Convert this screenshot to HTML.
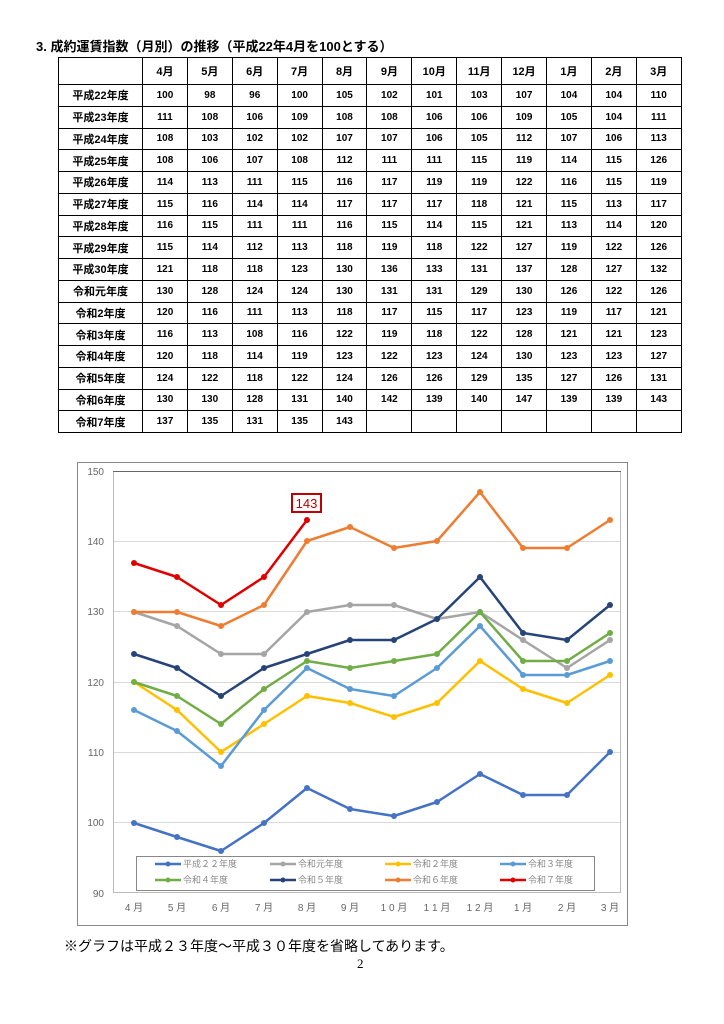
<!DOCTYPE html>
<html><head><meta charset="utf-8"><style>
body{margin:0;width:724px;height:1024px;background:#fff;position:relative;font-family:"Liberation Sans","Noto Sans CJK JP",sans-serif;overflow:hidden}
.t{position:absolute;left:36px;top:36px;font-size:13px;font-weight:bold;color:#000}
table{position:absolute;left:58px;top:57px;border-collapse:collapse;font-size:10px;font-weight:bold;table-layout:fixed;width:623px}
td{border:1px solid #000;text-align:center;height:20.75px;padding:0;overflow:hidden;white-space:nowrap}
tr.h td{height:26px;font-size:11px}
td.l{font-size:11px}
.f{position:absolute;left:64px;top:936px;font-size:14px;color:#000}
.p{position:absolute;left:357px;top:956px;font-size:13px;font-family:"Liberation Serif",serif}
svg{position:absolute;left:0;top:0}
</style></head><body>
<div class="t">3. 成約運賃指数（月別）の推移（平成22年4月を100とする）</div>
<table>
<colgroup><col style="width:84px"><col span="12" style="width:44.9px"></colgroup>
<tr class="h"><td class="l"></td><td>4月</td><td>5月</td><td>6月</td><td>7月</td><td>8月</td><td>9月</td><td>10月</td><td>11月</td><td>12月</td><td>1月</td><td>2月</td><td>3月</td></tr>
<tr><td class="l">平成22年度</td><td>100</td><td>98</td><td>96</td><td>100</td><td>105</td><td>102</td><td>101</td><td>103</td><td>107</td><td>104</td><td>104</td><td>110</td></tr>
<tr><td class="l">平成23年度</td><td>111</td><td>108</td><td>106</td><td>109</td><td>108</td><td>108</td><td>106</td><td>106</td><td>109</td><td>105</td><td>104</td><td>111</td></tr>
<tr><td class="l">平成24年度</td><td>108</td><td>103</td><td>102</td><td>102</td><td>107</td><td>107</td><td>106</td><td>105</td><td>112</td><td>107</td><td>106</td><td>113</td></tr>
<tr><td class="l">平成25年度</td><td>108</td><td>106</td><td>107</td><td>108</td><td>112</td><td>111</td><td>111</td><td>115</td><td>119</td><td>114</td><td>115</td><td>126</td></tr>
<tr><td class="l">平成26年度</td><td>114</td><td>113</td><td>111</td><td>115</td><td>116</td><td>117</td><td>119</td><td>119</td><td>122</td><td>116</td><td>115</td><td>119</td></tr>
<tr><td class="l">平成27年度</td><td>115</td><td>116</td><td>114</td><td>114</td><td>117</td><td>117</td><td>117</td><td>118</td><td>121</td><td>115</td><td>113</td><td>117</td></tr>
<tr><td class="l">平成28年度</td><td>116</td><td>115</td><td>111</td><td>111</td><td>116</td><td>115</td><td>114</td><td>115</td><td>121</td><td>113</td><td>114</td><td>120</td></tr>
<tr><td class="l">平成29年度</td><td>115</td><td>114</td><td>112</td><td>113</td><td>118</td><td>119</td><td>118</td><td>122</td><td>127</td><td>119</td><td>122</td><td>126</td></tr>
<tr><td class="l">平成30年度</td><td>121</td><td>118</td><td>118</td><td>123</td><td>130</td><td>136</td><td>133</td><td>131</td><td>137</td><td>128</td><td>127</td><td>132</td></tr>
<tr><td class="l">令和元年度</td><td>130</td><td>128</td><td>124</td><td>124</td><td>130</td><td>131</td><td>131</td><td>129</td><td>130</td><td>126</td><td>122</td><td>126</td></tr>
<tr><td class="l">令和2年度</td><td>120</td><td>116</td><td>111</td><td>113</td><td>118</td><td>117</td><td>115</td><td>117</td><td>123</td><td>119</td><td>117</td><td>121</td></tr>
<tr><td class="l">令和3年度</td><td>116</td><td>113</td><td>108</td><td>116</td><td>122</td><td>119</td><td>118</td><td>122</td><td>128</td><td>121</td><td>121</td><td>123</td></tr>
<tr><td class="l">令和4年度</td><td>120</td><td>118</td><td>114</td><td>119</td><td>123</td><td>122</td><td>123</td><td>124</td><td>130</td><td>123</td><td>123</td><td>127</td></tr>
<tr><td class="l">令和5年度</td><td>124</td><td>122</td><td>118</td><td>122</td><td>124</td><td>126</td><td>126</td><td>129</td><td>135</td><td>127</td><td>126</td><td>131</td></tr>
<tr><td class="l">令和6年度</td><td>130</td><td>130</td><td>128</td><td>131</td><td>140</td><td>142</td><td>139</td><td>140</td><td>147</td><td>139</td><td>139</td><td>143</td></tr>
<tr><td class="l">令和7年度</td><td>137</td><td>135</td><td>131</td><td>135</td><td>143</td><td></td><td></td><td></td><td></td><td></td><td></td><td></td></tr>
</table>
<svg width="724" height="1024" viewBox="0 0 724 1024">
<defs>
<marker id="m1" markerUnits="userSpaceOnUse" markerWidth="8" markerHeight="8" refX="4" refY="4"><circle cx="4" cy="4" r="3" fill="#4472C4"/></marker>
<marker id="m2" markerUnits="userSpaceOnUse" markerWidth="8" markerHeight="8" refX="4" refY="4"><circle cx="4" cy="4" r="3" fill="#A5A5A5"/></marker>
<marker id="m3" markerUnits="userSpaceOnUse" markerWidth="8" markerHeight="8" refX="4" refY="4"><circle cx="4" cy="4" r="3" fill="#FFC000"/></marker>
<marker id="m4" markerUnits="userSpaceOnUse" markerWidth="8" markerHeight="8" refX="4" refY="4"><circle cx="4" cy="4" r="3" fill="#5B9BD5"/></marker>
<marker id="m5" markerUnits="userSpaceOnUse" markerWidth="8" markerHeight="8" refX="4" refY="4"><circle cx="4" cy="4" r="3" fill="#70AD47"/></marker>
<marker id="m6" markerUnits="userSpaceOnUse" markerWidth="8" markerHeight="8" refX="4" refY="4"><circle cx="4" cy="4" r="3" fill="#264478"/></marker>
<marker id="m7" markerUnits="userSpaceOnUse" markerWidth="8" markerHeight="8" refX="4" refY="4"><circle cx="4" cy="4" r="3" fill="#ED7D31"/></marker>
<marker id="m8" markerUnits="userSpaceOnUse" markerWidth="8" markerHeight="8" refX="4" refY="4"><circle cx="4" cy="4" r="3" fill="#E00000"/></marker>
</defs>
<rect x="77.5" y="462.5" width="550" height="463" fill="#fff" stroke="#888"/>
<g stroke="#d9d9d9" stroke-width="1">
<line x1="113" x2="620" y1="822.5" y2="822.5"/><line x1="113" x2="620" y1="752.5" y2="752.5"/>
<line x1="113" x2="620" y1="682.5" y2="682.5"/><line x1="113" x2="620" y1="611.5" y2="611.5"/>
<line x1="113" x2="620" y1="541.5" y2="541.5"/>
</g>
<rect x="113.5" y="471.5" width="507" height="421" fill="none" stroke="#bbb"/>
<line x1="113" x2="621" y1="471.5" y2="471.5" stroke="#666"/>
<g font-size="10" fill="#666" text-anchor="end">
<text x="104" y="475">150</text><text x="104" y="545">140</text><text x="104" y="615">130</text>
<text x="104" y="686">120</text><text x="104" y="756">110</text><text x="104" y="826">100</text><text x="104" y="897">90</text>
</g>
<g font-size="10" fill="#666" text-anchor="middle">
<text x="134" y="911">4 月</text><text x="177" y="911">5 月</text><text x="221" y="911">6 月</text><text x="264" y="911">7 月</text>
<text x="307" y="911">8 月</text><text x="350" y="911">9 月</text><text x="394" y="911">1 0 月</text><text x="437" y="911">1 1 月</text>
<text x="480" y="911">1 2 月</text><text x="523" y="911">1 月</text><text x="567" y="911">2 月</text><text x="610" y="911">3 月</text>
</g>
<g fill="none" stroke-width="2.5" stroke-linejoin="round">
<polyline stroke="#4472C4" marker-start="url(#m1)" marker-mid="url(#m1)" marker-end="url(#m1)" points="134,823 177,837 221,851 264,823 307,788 350,809 394,816 437,802 480,774 523,795 567,795 610,752"/>
<polyline stroke="#A5A5A5" marker-start="url(#m2)" marker-mid="url(#m2)" marker-end="url(#m2)" points="134,612 177,626 221,654 264,654 307,612 350,605 394,605 437,619 480,612 523,640 567,668 610,640"/>
<polyline stroke="#FFC000" marker-start="url(#m3)" marker-mid="url(#m3)" marker-end="url(#m3)" points="134,682 177,710 221,752 264,724 307,696 350,703 394,717 437,703 480,661 523,689 567,703 610,675"/>
<polyline stroke="#5B9BD5" marker-start="url(#m4)" marker-mid="url(#m4)" marker-end="url(#m4)" points="134,710 177,731 221,766 264,710 307,668 350,689 394,696 437,668 480,626 523,675 567,675 610,661"/>
<polyline stroke="#70AD47" marker-start="url(#m5)" marker-mid="url(#m5)" marker-end="url(#m5)" points="134,682 177,696 221,724 264,689 307,661 350,668 394,661 437,654 480,612 523,661 567,661 610,633"/>
<polyline stroke="#264478" marker-start="url(#m6)" marker-mid="url(#m6)" marker-end="url(#m6)" points="134,654 177,668 221,696 264,668 307,654 350,640 394,640 437,619 480,577 523,633 567,640 610,605"/>
<polyline stroke="#ED7D31" marker-start="url(#m7)" marker-mid="url(#m7)" marker-end="url(#m7)" points="134,612 177,612 221,626 264,605 307,541 350,527 394,548 437,541 480,492 523,548 567,548 610,520"/>
<polyline stroke="#E00000" marker-start="url(#m8)" marker-mid="url(#m8)" marker-end="url(#m8)" points="134,563 177,577 221,605 264,577 307,520"/>
</g>
<rect x="292" y="494" width="29" height="18" fill="#fff" stroke="#C00000" stroke-width="2"/>
<text x="306.5" y="508" font-size="13" fill="#C00000" text-anchor="middle">143</text>
<rect x="136.5" y="856.5" width="458" height="34" fill="#fff" stroke="#888"/>
<g font-size="9" fill="#888" stroke-width="2.5">
<line x1="155" x2="181" y1="864" y2="864" stroke="#4472C4"/><circle cx="168" cy="864" r="2.5" fill="#4472C4"/><text x="183" y="867">平成２２年度</text>
<line x1="270" x2="296" y1="864" y2="864" stroke="#A5A5A5"/><circle cx="283" cy="864" r="2.5" fill="#A5A5A5"/><text x="298" y="867">令和元年度</text>
<line x1="385" x2="411" y1="864" y2="864" stroke="#FFC000"/><circle cx="398" cy="864" r="2.5" fill="#FFC000"/><text x="413" y="867">令和２年度</text>
<line x1="500" x2="526" y1="864" y2="864" stroke="#5B9BD5"/><circle cx="513" cy="864" r="2.5" fill="#5B9BD5"/><text x="528" y="867">令和３年度</text>
<line x1="155" x2="181" y1="880" y2="880" stroke="#70AD47"/><circle cx="168" cy="880" r="2.5" fill="#70AD47"/><text x="183" y="883">令和４年度</text>
<line x1="270" x2="296" y1="880" y2="880" stroke="#264478"/><circle cx="283" cy="880" r="2.5" fill="#264478"/><text x="298" y="883">令和５年度</text>
<line x1="385" x2="411" y1="880" y2="880" stroke="#ED7D31"/><circle cx="398" cy="880" r="2.5" fill="#ED7D31"/><text x="413" y="883">令和６年度</text>
<line x1="500" x2="526" y1="880" y2="880" stroke="#E00000"/><circle cx="513" cy="880" r="2.5" fill="#E00000"/><text x="528" y="883">令和７年度</text>
</g>
</svg>
<div class="f">※グラフは平成２３年度～平成３０年度を省略してあります。</div>
<div class="p">2</div>
</body></html>
